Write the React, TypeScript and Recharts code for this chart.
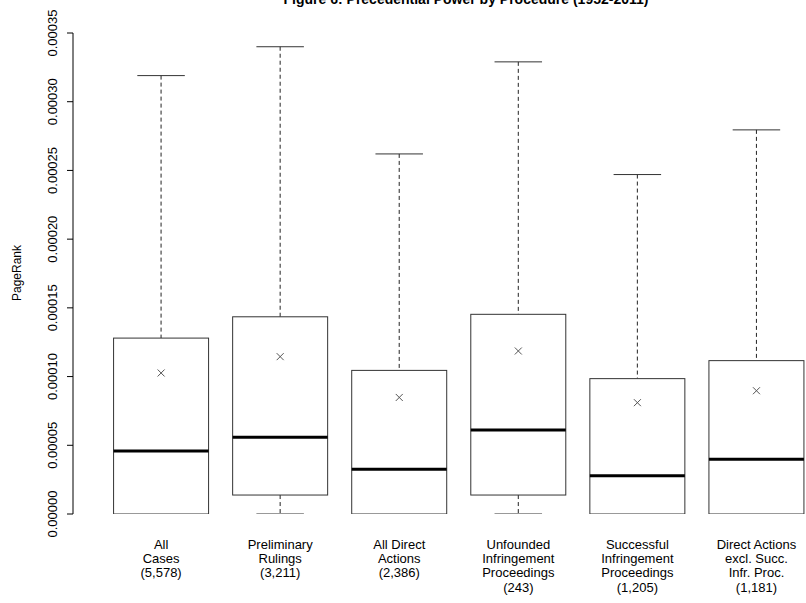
import React from 'react';
import { ComposedChart, Bar, Scatter, XAxis, YAxis } from 'recharts';

// box plot stats (PageRank)
const categoryLabels = [
  ['All', 'Cases', '(5,578)'],
  ['Preliminary', 'Rulings', '(3,211)'],
  ['All Direct', 'Actions', '(2,386)'],
  ['Unfounded', 'Infringement', 'Proceedings', '(243)'],
  ['Successful', 'Infringement', 'Proceedings', '(1,205)'],
  ['Direct Actions', 'excl. Succ.', 'Infr. Proc.', '(1,181)'],
];
const positions = [1, 2, 3, 4, 5, 6];
const whiskerLow = [0, 0, 0, 0, 0, 0];
const quartile1 = [0, 0.0000138, 0, 0.0000138, 0, 0];
const medians = [0.0000458, 0.0000558, 0.0000326, 0.0000611, 0.0000279, 0.0000398];
const quartile3 = [0.000128, 0.0001435, 0.0001045, 0.0001453, 0.0000985, 0.0001116];
const whiskerHigh = [0.000319, 0.00034, 0.000262, 0.000329, 0.000247, 0.0002795];
const means = [0.0001026, 0.0001145, 0.0000848, 0.0001186, 0.000081, 0.0000897];
const yTicks = [0, 0.00005, 0.0001, 0.00015, 0.0002, 0.00025, 0.0003, 0.00035];

const FONT = '"Liberation Sans", Arial, sans-serif';

const rows = positions.map((pos, i) => ({
  pos,
  range: [whiskerLow[i], whiskerHigh[i]],
  q1: quartile1[i],
  median: medians[i],
  q3: quartile3[i],
  mean: means[i],
}));

// draws a whole box + whiskers inside the [low, high] range bar
const BoxShape = (props: any) => {
  const { x, y, width, height, payload } = props;
  const top = Math.min(y, y + height);
  const bottom = Math.max(y, y + height);
  const [lo, hi] = payload.range;
  const toY = (v: number) => bottom - ((v - lo) / (hi - lo)) * (bottom - top);
  const cx = x + width / 2;
  const cap = width / 4;
  const yQ1 = toY(payload.q1);
  const yQ3 = toY(payload.q3);
  const yMed = toY(payload.median);
  return (
    <g>
      <line x1={cx} x2={cx} y1={top} y2={yQ3} stroke="#222" strokeDasharray="4 3" />
      <line x1={cx} x2={cx} y1={yQ1} y2={bottom} stroke="#222" strokeDasharray="4 3" />
      <line x1={cx - cap} x2={cx + cap} y1={top} y2={top} stroke="#333" />
      <line x1={cx - cap} x2={cx + cap} y1={bottom} y2={bottom} stroke="#333" />
      <rect x={x} y={yQ3} width={width} height={yQ1 - yQ3} fill="#fff" stroke="#333" />
      <line x1={x} x2={x + width} y1={yMed} y2={yMed} stroke="#000" strokeWidth={3} />
    </g>
  );
};

const MeanMark = (props: any) => {
  const { cx, cy } = props;
  const s = 3.5;
  return (
    <g stroke="#555" strokeWidth={1}>
      <line x1={cx - s} y1={cy - s} x2={cx + s} y2={cy + s} />
      <line x1={cx - s} y1={cy + s} x2={cx + s} y2={cy - s} />
    </g>
  );
};

const YTick = (props: any) => {
  const { x, y, payload } = props;
  return (
    <text
      transform={`translate(${x - 13}, ${y}) rotate(-90)`}
      textAnchor="middle"
      dy="0.35em"
      fontSize={13}
      fontFamily={FONT}
      fill="#000"
    >
      {payload.value.toFixed(5)}
    </text>
  );
};

const XTick = (props: any) => {
  const { x, y, payload } = props;
  const lines = categoryLabels[payload.value - 1] || [];
  return (
    <text x={x} y={y + 27} textAnchor="middle" fontSize={13} fontFamily={FONT} fill="#000">
      {lines.map((l, j) => (
        <tspan key={j} x={x} dy={j === 0 ? 0 : 14.2}>
          {l}
        </tspan>
      ))}
    </text>
  );
};

export default function App() {
  return (
    <div style={{ position: 'fixed', left: 0, top: 0, width: 806, height: 603, overflow: 'hidden', background: '#fff' }}>
      <ComposedChart width={830} height={603} data={rows} margin={{ top: 33, right: 14, left: 0, bottom: 0 }}>
        <XAxis
          type="number"
          dataKey="pos"
          domain={[0.26, 6.5]}
          ticks={positions}
          interval={0}
          axisLine={false}
          tickLine={false}
          height={89}
          tick={XTick}
          allowDataOverflow
        />
        <YAxis
          type="number"
          domain={[0, 0.00035]}
          ticks={yTicks}
          interval={0}
          width={73}
          tickSize={6}
          axisLine={{ stroke: '#000' }}
          tickLine={{ stroke: '#000' }}
          tick={YTick}
          allowDataOverflow
        />
        <Bar dataKey="range" barSize={95} shape={BoxShape} isAnimationActive={false} />
        <Scatter dataKey="mean" shape={MeanMark} isAnimationActive={false} />
      </ComposedChart>
      <svg width={806} height={603} style={{ position: 'absolute', left: 0, top: 0, pointerEvents: 'none' }}>
        <text x={466} y={4} textAnchor="middle" fontSize={14} fontWeight="bold" fontFamily={FONT}>
          Figure 6: Precedential Power by Procedure (1952-2011)
        </text>
        <text transform="translate(21, 273) rotate(-90)" textAnchor="middle" fontSize={12} fontFamily={FONT}>
          PageRank
        </text>
      </svg>
    </div>
  );
}
